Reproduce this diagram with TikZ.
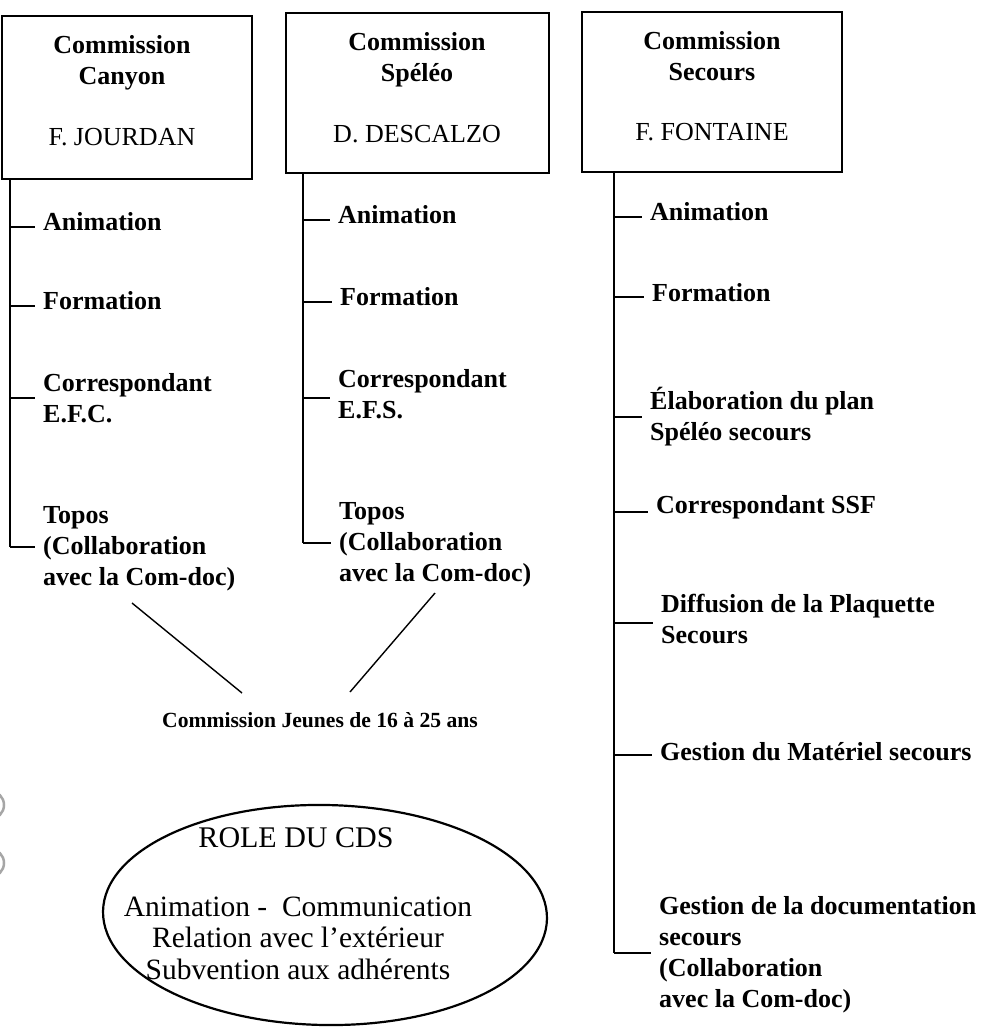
\documentclass[tikz,border=0pt]{standalone}
\usepackage{fontspec}
\setmainfont{Liberation Serif}
\usetikzlibrary{shapes.geometric}
\begin{document}
\begin{tikzpicture}[x=1pt,y=-1pt,
  lbl/.style={anchor=west, align=left, inner xsep=8pt, inner ysep=0pt, font=\fontsize{26}{31}\selectfont\bfseries},
  boxr/.style={draw, line width=1.6pt, inner sep=0pt},
  btxt/.style={align=center, inner sep=0pt, font=\fontsize{26}{31}\selectfont},
  etxt/.style={align=center, inner sep=0pt, font=\fontsize{29.5}{31.5}\selectfont},
  conn/.style={line width=1.6pt},
  hole/.style={line width=2.5pt, gray!70}
]
\useasboundingbox (0,0) rectangle (984,1027);
\fill[white] (0,0) rectangle (984,1027);

% punch holes (scan edge)
\draw[hole] (-10,805) circle[radius=14pt];
\draw[hole] (-10,863) circle[radius=14pt];

% boxes
\node[boxr, minimum width=250pt, minimum height=163pt] (b1) at (127,97.5) {};
\node[boxr, minimum width=263pt, minimum height=160pt] (b2) at (417.5,93) {};
\node[boxr, minimum width=260pt, minimum height=160pt] (b3) at (712,92) {};
\node[btxt] (b1t) at (122,91) {\textbf{Commission}\\\textbf{Canyon}\\[30pt]F. JOURDAN};
\node[btxt] (b2t) at (417,87.5) {\textbf{Commission}\\\textbf{Spéléo}\\[30pt]D. DESCALZO};
\node[btxt] (b3t) at (712,86) {\textbf{Commission}\\\textbf{Secours}\\[29pt]F. FONTAINE};

% column 1
\coordinate (v1b) at (10,547);
\node[lbl] (c1a) at (35,222) {Animation};
\node[lbl] (c1b) at (35,301) {Formation};
\node[lbl] (c1c) at (35,398) {Correspondant\\E.F.C.};
\node[lbl] (c1d) at (35,549) {Topos\\(Collaboration\\avec la Com-doc)};
\draw[conn] (b1.south -| v1b) -- (v1b);
\draw[conn] ([yshift=-5pt]c1a.west -| v1b) -- ([yshift=-5pt]c1a.west);
\draw[conn] ([yshift=-5pt]c1b.west -| v1b) -- ([yshift=-5pt]c1b.west);
\draw[conn] (c1c.west -| v1b) -- (c1c.west);
\draw[conn] ([yshift=2pt]c1d.west -| v1b) -- ([yshift=2pt]c1d.west);

% column 2
\coordinate (v2b) at (303,543);
\node[lbl] (c2a) at (330,215) {Animation};
\node[lbl] (c2b) at (332,297) {Formation};
\node[lbl] (c2c) at (330,394) {Correspondant\\E.F.S.};
\node[lbl] (c2d) at (331,545) {Topos\\(Collaboration\\avec la Com-doc)};
\draw[conn] (b2.south -| v2b) -- (v2b);
\draw[conn] ([yshift=-5pt]c2a.west -| v2b) -- ([yshift=-5pt]c2a.west);
\draw[conn] ([yshift=-5pt]c2b.west -| v2b) -- ([yshift=-5pt]c2b.west);
\draw[conn] ([yshift=-4pt]c2c.west -| v2b) -- ([yshift=-4pt]c2c.west);
\draw[conn] ([yshift=2pt]c2d.west -| v2b) -- ([yshift=2pt]c2d.west);

% column 3
\coordinate (v3b) at (614,953);
\node[lbl] (c3a) at (642,212) {Animation};
\node[lbl] (c3b) at (644,293) {Formation};
\node[lbl] (c3c) at (642,417) {Élaboration du plan\\Spéléo secours};
\node[lbl] (c3d) at (648,507) {Correspondant SSF};
\node[lbl] (c3e) at (653,619) {Diffusion de la Plaquette\\Secours};
\node[lbl] (c3f) at (652,752) {Gestion du Matériel secours};
\node[lbl] (c3g) at (651,955) {Gestion de la documentation\\secours\\(Collaboration\\avec la Com-doc)};
\draw[conn] (b3.south -| v3b) -- (v3b);
\draw[conn] ([yshift=-5pt]c3a.west -| v3b) -- ([yshift=-5pt]c3a.west);
\draw[conn] ([yshift=-4pt]c3b.west -| v3b) -- ([yshift=-4pt]c3b.west);
\draw[conn] (c3c.west -| v3b) -- (c3c.west);
\draw[conn] ([yshift=-5pt]c3d.west -| v3b) -- ([yshift=-5pt]c3d.west);
\draw[conn] ([yshift=-4pt]c3e.west -| v3b) -- ([yshift=-4pt]c3e.west);
\draw[conn] ([yshift=-3pt]c3f.west -| v3b) -- ([yshift=-3pt]c3f.west);
\draw[conn] ([yshift=2pt]c3g.west -| v3b) -- ([yshift=2pt]c3g.west);

% commission jeunes
\node[inner sep=0pt, font=\fontsize{21.6}{26}\selectfont\bfseries] (jeunes) at (320,720) {Commission Jeunes de 16 à 25 ans};
\coordinate (ja) at (132,603);
\coordinate (jae) at (242,693);
\coordinate (jb) at (435,593);
\coordinate (jbe) at (350,692);
\draw[line width=1.4pt] (ja) -- (jae);
\draw[line width=1.4pt] (jb) -- (jbe);

% role du CDS
\node[ellipse, draw, line width=2.2pt, minimum width=444pt, minimum height=220pt, inner sep=0pt, rotate=-1] (role) at (325,915) {};
\node[etxt, font=\fontsize{30}{32}\selectfont] (rt) at (296,838) {ROLE DU CDS};
\node[etxt] (rb) at (298,938) {Animation -\ \ Communication\\Relation avec l’extérieur\\Subvention aux adhérents};
\end{tikzpicture}
\end{document}
